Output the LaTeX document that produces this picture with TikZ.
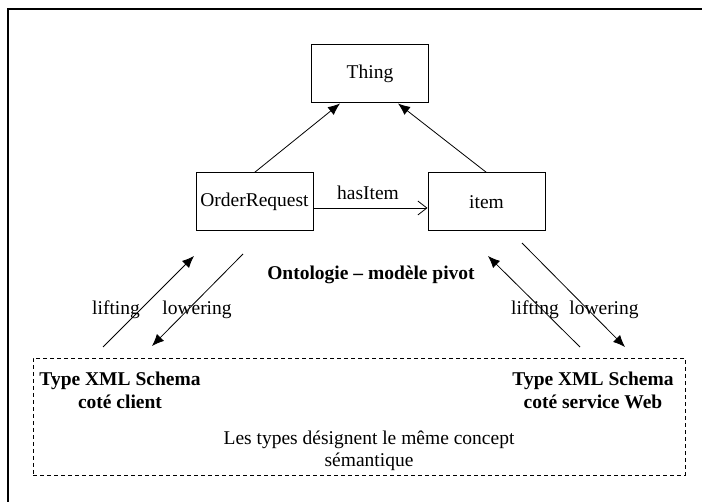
\documentclass[tikz,border=0pt]{standalone}
\usepackage{fontspec}
\setmainfont{Liberation Serif}
\usetikzlibrary{arrows.meta,positioning}
\newcommand{\xmltype}{\textbf{Type XML Schema}}

\begin{document}
\begin{tikzpicture}[x=1pt,y=-1pt,
    every node/.style={font=\fontsize{19.5}{23}\selectfont},
    concept/.style={draw,line width=1pt,minimum width=117pt,minimum height=58pt,inner sep=0pt},
    isa/.style={-{Latex[length=12pt,width=10pt]},line width=0.8pt},
    map/.style={-{Latex[length=12pt,width=10pt]},line width=0.8pt},
    lbl/.style={inner sep=0pt,align=center}]
    \useasboundingbox (0,0) rectangle (702,502);

    %frame
    \draw[line width=2pt] (702,9) -- (7.5,9) -- (7.5,502);

    %ontology
    \node[concept] (thing) at (370,74) {Thing};
    \node[concept] (order) at (254.5,202) {OrderRequest};
    \node[concept] (item)  at (486.5,202) {item};

    \draw[isa] (order.north) -- ([xshift=-30pt]thing.south);
    \draw[isa] (item.north) -- ([xshift=28pt]thing.south);
    \draw[-{Straight Barb[length=9pt,width=14pt]},line width=0.8pt]
        ([yshift=-6pt]order.east) -- ([yshift=-6pt]item.west);
    \node[lbl] (has) at (368,193) {hasItem};
    \node[lbl] (pivot) at (371,275) {\textbf{Ontologie -- modèle pivot}};

    %XML side
    \node[draw,dash pattern=on 4pt off 3pt,line width=0.8pt,minimum width=652pt,minimum height=117pt] (types) at (359,416.5) {};
    \node[lbl] (client)  at (120,390) {\xmltype\\\textbf{coté client}};
    \node[lbl] (service) at (593,390) {\xmltype\\\textbf{coté service Web}};
    \node[lbl,font=\fontsize{19.5}{22}\selectfont] (same) at (369,451) {Les types désignent le même concept\\sémantique};

    \coordinate (cl1) at (103,347); \coordinate (cl2) at (194,256);
    \coordinate (cw1) at (243,254); \coordinate (cw2) at (152,346);
    \coordinate (sl1) at (580,347); \coordinate (sl2) at (488,256);
    \coordinate (sw1) at (522,243); \coordinate (sw2) at (625,347);
    \draw[map] (cl1) -- (cl2);
    \draw[map] (cw1) -- (cw2);
    \draw[map] (sl1) -- (sl2);
    \draw[map] (sw1) -- (sw2);
    \node[lbl] (lift1)  at (116,310) {lifting};
    \node[lbl] (lower1) at (197,310) {lowering};
    \node[lbl] (lift2)  at (535,310) {lifting};
    \node[lbl] (lower2) at (604,310) {lowering};
\end{tikzpicture}
\end{document}
